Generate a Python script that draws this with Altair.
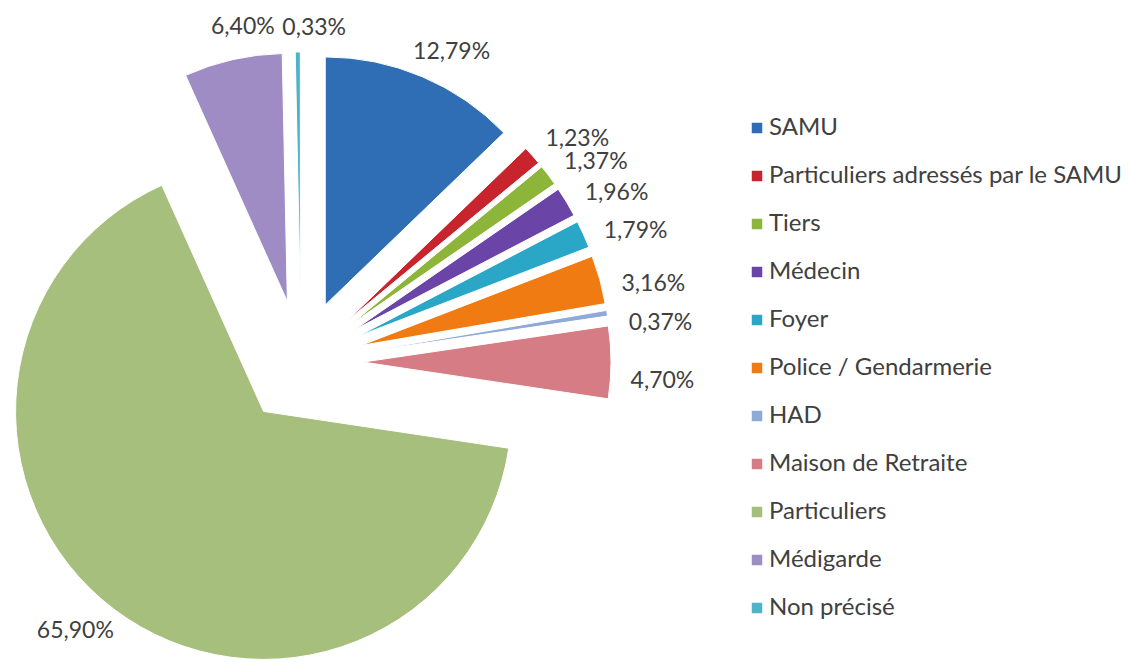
import altair as alt
import pandas as pd

categories = ["SAMU", "Particuliers adressés par le SAMU", "Tiers", "Médecin", "Foyer",
              "Police / Gendarmerie", "HAD", "Maison de Retraite", "Particuliers",
              "Médigarde", "Non précisé"]
values = [12.79, 1.23, 1.37, 1.96, 1.79, 3.16, 0.37, 4.70, 65.90, 6.40, 0.33]
colors = ["#2F6DB5", "#C8242E", "#8DB53A", "#6B44A8", "#2AA7C6", "#F07B12",
          "#8FA9D8", "#D67C84", "#A6BF7C", "#A08CC4", "#4DB3C9"]

# geometry / style
CX, CY = 293, 354      # pie centre inside the plot area (px)
EXPLODE = 62           # explosion distance of each slice
R = 248                # outer radius
LABEL_BASE = 272       # label distance from the exploded apex (top/bottom)
LABEL_SIDE = 28        # extra distance for labels on the sides
LABEL_TURN = 3.5       # degrees the labels are turned clockwise
FONT = "Lato"
FS = 23

df = pd.DataFrame({"category": categories, "value": values,
                   "order": list(range(len(categories)))})

base = (
    alt.Chart(df)
    .transform_window(cum="sum(value)", sort=[alt.SortField("order")], frame=[None, 0])
    .transform_joinaggregate(total="sum(value)")
    .transform_calculate(
        t0="2*PI*(datum.cum - datum.value)/datum.total",
        t1="2*PI*datum.cum/datum.total",
    )
    .transform_calculate(mid="(datum.t0 + datum.t1)/2")
    .transform_calculate(
        px=f"{CX} + {EXPLODE}*sin(datum.mid)",
        py=f"{CY} - {EXPLODE}*cos(datum.mid)",
        la=f"datum.mid + {LABEL_TURN}*PI/180",
        lr=f"{LABEL_BASE} + {LABEL_SIDE}*abs(sin(datum.mid))",
        lbl="replace(format(datum.value, '.2f'), '.', ',') + '%'",
    )
)

arcs = base.mark_arc(radius=R, stroke="white", strokeWidth=1).encode(
    x=alt.X("px:Q", scale=None),
    y=alt.Y("py:Q", scale=None),
    theta=alt.Theta("t0:Q", scale=None),
    theta2=alt.Theta2("t1:Q"),
    color=alt.Color(
        "category:N",
        scale=alt.Scale(domain=categories, range=colors),
        legend=alt.Legend(
            title=None, orient="none", legendX=737, legendY=108,
            symbolType="square", symbolSize=110, symbolStrokeWidth=0,
            labelFont=FONT, labelFontSize=24, labelColor="#404040",
            rowPadding=24, labelOffset=0, padding=0, labelLimit=600,
        ),
    ),
)

texts = base.mark_text(font=FONT, fontSize=FS, color="#404040").encode(
    x=alt.X("px:Q", scale=None),
    y=alt.Y("py:Q", scale=None),
    theta=alt.Theta("la:Q", scale=None, stack=None),
    radius=alt.Radius("lr:Q", scale=None),
    text="lbl:N",
)

chart = (
    alt.layer(arcs, texts)
    .properties(width=1116, height=652, padding=0, autosize="none", background="white")
    .configure_view(stroke=None)
)

chart.save("out.html", embed_options={"renderer": "svg", "actions": False})
